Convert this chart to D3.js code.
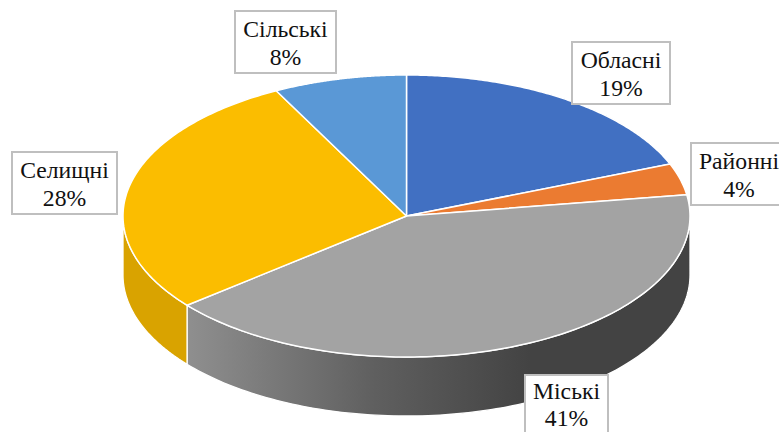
<!DOCTYPE html>
<html><head><meta charset="utf-8">
<script src="https://cdn.jsdelivr.net/npm/d3@7"></script>
<style>html,body{margin:0;padding:0;background:#fff;overflow:hidden}svg{display:block}</style>
</head><body><svg id="c" width="779" height="432"></svg>
<script>
const categories = ["Обласні","Районні","Міські","Селищні","Сільські"];
const values = [19.0,3.6,41.49,28.31,7.6];
const colors = ["#4472C4","#ED7D31","#A5A5A5","#FFC000","#5B9BD5"];
const colorsTop = ["#4170C2","#EB7B31","#A3A3A3","#FBBD00","#5A98D6"];
const labelBoxes = [[572,42,98,62],[691,143,96,62],[525,375,83,62],[12,152,105,62],[235,11,101,62]];

const W=779,H=432, depth=59;
const svg=d3.select("#c");
const sx=d3.scaleLinear().domain([-1,1]).range([123,690]);
const sy=d3.scaleLinear().domain([-1,1]).range([75,357]);
const pie=d3.pie().sort(null).value(d=>d)(values);
const pt=(a,dz=0)=>[sx(Math.sin(a)),sy(-Math.cos(a))+dz];
const sample=(a0,a1,dz=0)=>d3.range(0,121).map(i=>pt(a0+(a1-a0)*i/120,dz));
const line=d3.line();

const defs=svg.append("defs");
const g=defs.append("linearGradient").attr("id","grayside").attr("gradientUnits","userSpaceOnUse")
  .attr("x1",187).attr("x2",530).attr("y1",0).attr("y2",0);
g.append("stop").attr("offset",0).attr("stop-color","#8f8f8f");
g.append("stop").attr("offset",0.55).attr("stop-color","#5f5f5f");
g.append("stop").attr("offset",1).attr("stop-color","#434343");

// visible side walls: front half only
const front0=Math.PI/2, front1=3*Math.PI/2;
pie.forEach((s,i)=>{
  const a0=Math.max(s.startAngle,front0), a1=Math.min(s.endAngle,front1);
  if(a1<=a0) return;
  const top=sample(a0,a1), bot=sample(a1,a0,depth);
  svg.append("path").attr("d",line(top.concat(bot))+"Z")
    .attr("fill", i===2?"url(#grayside)": i===3?"#D9A300":d3.color(colors[i]).darker(0.6))
    .attr("stroke","#fff").attr("stroke-width",1.3).attr("stroke-linejoin","round");
});
// top faces
pie.forEach((s,i)=>{
  const c=[sx(0),sy(0)];
  svg.append("path").attr("d",line([c].concat(sample(s.startAngle,s.endAngle)))+"Z")
    .attr("fill",colorsTop[i]).attr("stroke","#fff").attr("stroke-width",1.5).attr("stroke-linejoin","round");
});
// labels
categories.forEach((name,i)=>{
  const [x,y,w,h]=labelBoxes[i];
  const cx=x+w/2;
  const l=svg.append("g");
  l.append("rect").attr("x",x).attr("y",y).attr("width",w).attr("height",h)
    .attr("fill","#fff").attr("stroke","#BFBFBF").attr("stroke-width",2);
  const t=l.append("text").attr("text-anchor","middle").attr("font-family","'Liberation Serif',serif")
    .attr("font-size",23.7).attr("fill","#111");
  const base2=Math.min(y+54,H-6);
  const base1=Math.min(y+26,base2-27);
  t.append("tspan").attr("x",cx).attr("y",base1).text(name);
  t.append("tspan").attr("x",cx).attr("y",base2).text(Math.round(values[i])+"%");
});
</script></body></html>
